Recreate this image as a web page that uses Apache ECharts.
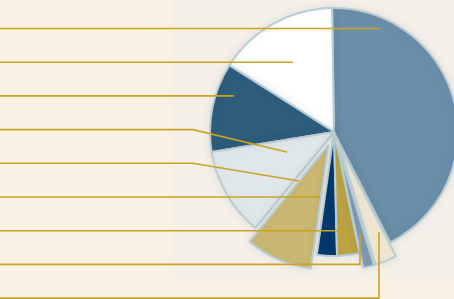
<!DOCTYPE html>
<html>
<head>
<meta charset="utf-8">
<script src="https://cdn.jsdelivr.net/npm/echarts@6/dist/echarts.min.js"></script>
<style>
    html, body { margin: 0; padding: 0; background: #f8f1e4; }
    #pieChart { width: 454px; height: 299px; }
</style>
</head>
<body>
<div id="pieChart"></div>
<script>
    // 数据
    var categories = ['Segment 1', 'Segment 2', 'Segment 3', 'Segment 4', 'Segment 5',
        'Segment 6', 'Segment 7', 'Segment 8', 'Segment 9'];
    var shares = [42.7, 15.7, 11.6, 11.5, 8.7, 2.6, 2.9, 1.4, 2.8];

    // 样式
    var sliceColors = ['#6b8ea8', '#ffffff', '#2e5c7b', '#e0e7ea', '#cab772',
        '#00376c', '#bda343', '#7f9cb6', '#efe6d3'];
    var exploded = [false, false, false, false, true, false, false, true, true];

    // 引线: 极坐标终点 [方位角(度, 顺时针自正上方), 半径px], 以及走线方式
    var pieCenter = [334, 132];
    var leaderAnchors = [[24.1, 112.8], [330.3, 82.9], [290.8, 107], [247.0, 51.1], [215.5, 60.2],
        [192.3, 65.5], [174.2, 98.5], [165.6, 104.3], [155.8, 109.7]];
    var leaderKinds = ['flat', 'flat', 'flat', 'elbow', 'elbow', 'flat', 'flat', 'drop', 'drop'];
    var labelTop = 28.5, labelStep = 33.7, elbowX = 193;

    var pieChart = echarts.init(document.getElementById('pieChart'));

    var buildData = function (withStyle) {
        var res = [];
        for (var i = 0; i < categories.length; i++) {
            res.push({
                name: categories[i],
                value: shares[i],
                selected: withStyle ? exploded[i] : false,
                itemStyle: withStyle ? { color: sliceColors[i] } : { color: 'rgba(0,0,0,0)' }
            });
        }
        return res;
    };

    var leaderLayout = function (params) {
        var i = params.dataIndex;
        var y = labelTop + i * labelStep;
        var rad = leaderAnchors[i][0] * Math.PI / 180;
        var ax = pieCenter[0] + leaderAnchors[i][1] * Math.sin(rad);
        var ay = pieCenter[1] - leaderAnchors[i][1] * Math.cos(rad);
        var pts;
        if (leaderKinds[i] === 'elbow') {
            pts = [[0, y], [elbowX, y], [ax, ay]];
        } else if (leaderKinds[i] === 'drop') {
            pts = [[0, y], [ax, y], [ax, ay]];
        } else {
            pts = [[0, y], [ax / 2, y], [ax, y]];
        }
        return {
            x: -6,
            y: y,
            align: 'right',
            verticalAlign: 'middle',
            labelLinePoints: pts
        };
    };

    var pieSeries = {
        type: 'pie',
        center: pieCenter,
        radius: [0, 124],
        startAngle: -63,
        clockwise: false,
        selectedOffset: 15,
        animation: false,
        avoidLabelOverlap: false
    };

    var option = {
        backgroundColor: '#f8f1e4',
        graphic: {
            elements: [{
                type: 'rect',
                left: 171,
                top: 0,
                z: 0,
                shape: { width: 283, height: 279 },
                style: { fill: '#f4efe8' }
            }]
        },
        series: [
            echarts.util.merge({
                name: 'slices',
                z: 2,
                selectedMode: 'multiple',
                data: buildData(true),
                label: { show: false },
                labelLine: { show: false },
                itemStyle: {
                    borderColor: '#b9cdd4',
                    borderWidth: 2,
                    shadowBlur: 8,
                    shadowColor: 'rgba(90,105,120,0.1)'
                },
                emphasis: { disabled: true }
            }, pieSeries, true),
            echarts.util.merge({
                name: 'leaders',
                z: 5,
                silent: true,
                selectedMode: false,
                data: buildData(false),
                label: {
                    show: true,
                    position: 'outside',
                    formatter: '{b}',
                    fontSize: 11,
                    color: '#333'
                },
                labelLine: {
                    show: true,
                    smooth: false,
                    lineStyle: { color: '#c9a424', width: 1.6 }
                },
                labelLayout: leaderLayout,
                itemStyle: { borderWidth: 0 },
                emphasis: { disabled: true }
            }, pieSeries, true)
        ]
    };

    pieChart.setOption(option);
</script>
</body>
</html>
